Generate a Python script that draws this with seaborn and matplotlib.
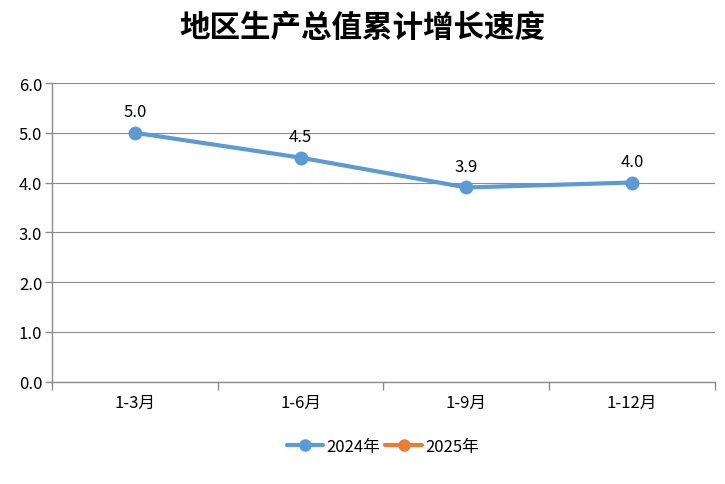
import matplotlib
matplotlib.use("Agg")
import matplotlib.pyplot as plt
from matplotlib.lines import Line2D
import seaborn as sns
import pandas as pd
import numpy as np

categories = ["1-3月", "1-6月", "1-9月", "1-12月"]
values_2024 = [5.0, 4.5, 3.9, 4.0]
series_names = ["2024年", "2025年"]
title = "地区生产总值累计增长速度"

sns.set_theme(style="white")
plt.rcParams['font.family'] = ['Noto Sans CJK SC', 'DejaVu Sans']
plt.rcParams['text.color'] = '#000000'
plt.rcParams['xtick.labelcolor'] = '#000000'
plt.rcParams['ytick.labelcolor'] = '#000000'

blue = "#5B9BD5"
orange = "#ED7D31"
grid = "#8C8C8C"

fig = plt.figure(figsize=(7.25, 4.85), dpi=100)
ax = fig.add_axes([0.0717, 0.2113, 0.9145, 0.6155])

df = pd.DataFrame({"cat": categories, "val": values_2024})
sns.lineplot(data=df, x="cat", y="val", ax=ax, color=blue, linewidth=3,
             marker="o", markersize=10, markeredgewidth=0, sort=False, legend=False)

for i, v in enumerate(values_2024):
    ax.annotate(f"{v:.1f}", (i, v), xytext=(0, 9), textcoords="offset points",
                ha="center", va="bottom", fontsize=12, color="#000000")

ax.set_xlim(-0.5, len(categories) - 0.5)
ax.set_ylim(0, 6)
ax.set_yticks(np.arange(0, 6.01, 1.0))
ax.set_yticklabels([f"{t:.1f}" for t in np.arange(0, 6.01, 1.0)], fontsize=12)
ax.set_xticks(range(len(categories)))
ax.set_xticklabels(categories, fontsize=12)
ax.set_xticks(np.arange(-0.5, len(categories), 1.0), minor=True)
ax.tick_params(axis="x", which="major", length=0, pad=9, labelcolor="#000000")
ax.tick_params(axis="x", which="minor", length=6, color=grid, width=1, bottom=True)
ax.tick_params(axis="y", length=5, color=grid, width=1, left=True, pad=2, labelcolor="#000000")
ax.set_xlabel("")
ax.set_ylabel("")
ax.yaxis.grid(True, color=grid, linewidth=0.8)
ax.set_axisbelow(True)
for s in ["top", "right"]:
    ax.spines[s].set_visible(False)
for s in ["left", "bottom"]:
    ax.spines[s].set_color(grid)
    ax.spines[s].set_linewidth(1)

fig.text(0.5, 0.943, title, ha="center", va="center", fontsize=22, fontweight="bold", color="#000000")

handles = [Line2D([], [], color=blue, linewidth=3, marker="o", markersize=8),
           Line2D([], [], color=orange, linewidth=3, marker="o", markersize=8)]
leg = fig.legend(handles, series_names, loc="center", bbox_to_anchor=(0.528, 0.078), ncol=2,
                 frameon=False, fontsize=12, handlelength=2.2, columnspacing=0.3, handletextpad=0.2)
for t in leg.get_texts():
    t.set_color("#000000")

fig.savefig("out.png", dpi=100)
